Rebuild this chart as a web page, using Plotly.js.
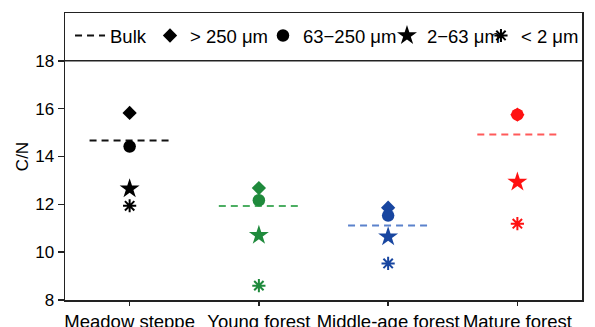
<!DOCTYPE html>
<html>
<head>
<meta charset="utf-8">
<script src="https://cdn.plot.ly/plotly-3.0.1.min.js"></script>
<style>html,body{margin:0;padding:0;background:#fff;}#chart{width:595px;height:327px;}</style>
</head>
<body>
<div id="chart"></div>
<script>
const categories = ["Meadow steppe", "Young forest", "Middle-age forest", "Mature forest"];
const bulk = [14.67, 11.93, 11.11, 14.92];
const coarse250 = [15.82, 12.68, 11.86, 15.75];   // > 250 μm
const sand63 = [14.42, 12.17, 11.53, 15.75];      // 63−250 μm
const silt2 = [12.65, 10.71, 10.64, 12.93];       // 2−63 μm
const clay2 = [11.94, 8.60, 9.53, 11.19];         // < 2 μm
const seriesNames = ["> 250 μm", "63\u2212250 μm", "2\u221263 μm", "< 2 μm"];
const yTicks = [8, 10, 12, 14, 16, 18];

const markColors = ["#000000", "#1f8a3c", "#1846a0", "#ff1111"];
const bulkColors = ["#111111", "#4cae62", "#5b82cc", "#ff5a5a"];

const xs = categories.map((c, i) => i);
const traces = [];
const half = 0.31;
bulk.forEach((v, i) => {
  traces.push({
    x: [xs[i] - half, xs[i] + half], y: [v, v], mode: "lines", type: "scatter",
    name: "Bulk", showlegend: i === 0, legendgroup: "bulk", legend: "legend",
    line: {color: bulkColors[i], width: 2, dash: "7px,5px"}, hoverinfo: "skip"
  });
});
const seriesVals = [coarse250, sand63, silt2, clay2];
const symbols = ["diamond", "circle", "star", "asterisk-open"];
const sizes = [11, 12.5, 15, 11];
const legendIds = ["legend2", "legend3", "legend4", "legend5"];
seriesVals.forEach((vals, k) => {
  traces.push({
    x: xs, y: vals, mode: "markers", type: "scatter", name: seriesNames[k],
    legend: legendIds[k],
    marker: {symbol: symbols[k], size: sizes[k], color: markColors,
             line: {width: k === 3 ? 2 : 0, color: markColors}}
  });
});

function leg(x) {
  return {orientation: "h", x: x, xanchor: "left", y: 0.92, yanchor: "middle",
          bgcolor: "rgba(0,0,0,0)", borderwidth: 0, font: {size: 18.5}};
}

const layout = {
  width: 595, height: 327,
  margin: {l: 65, r: 12, t: 13, b: 27, pad: 0},
  paper_bgcolor: "#fff", plot_bgcolor: "#fff",
  font: {family: "Liberation Sans, Arial, sans-serif", color: "#000", size: 18.5},
  showlegend: true,
  legend: leg(0.0097),
  legend2: leg(0.1641),
  legend3: leg(0.3822),
  legend4: leg(0.6216),
  legend5: leg(0.803),
  xaxis: {range: [-0.5, 3.5], tickvals: xs, ticktext: categories,
          showgrid: false, zeroline: false, showline: true, linecolor: "#222", linewidth: 1.5,
          mirror: true, ticks: "outside", ticklen: 4, tickwidth: 1.5, tickcolor: "#222",
          tickfont: {size: 18.5}},
  yaxis: {range: [8, 20], tickvals: yTicks, showgrid: false, zeroline: false,
          showline: true, linecolor: "#222", linewidth: 1.5, mirror: true,
          ticks: "outside", ticklen: 6, tickwidth: 1.5, tickcolor: "#222",
          tickfont: {size: 17}, title: {text: "C/N", font: {size: 17}, standoff: 2}},
  shapes: [{type: "line", xref: "paper", x0: 0, x1: 1, yref: "y", y0: 18, y1: 18,
            line: {color: "#222", width: 1.5}}]
};
Plotly.newPlot("chart", traces, layout, {displayModeBar: false, staticPlot: true});
</script>
</body>
</html>
